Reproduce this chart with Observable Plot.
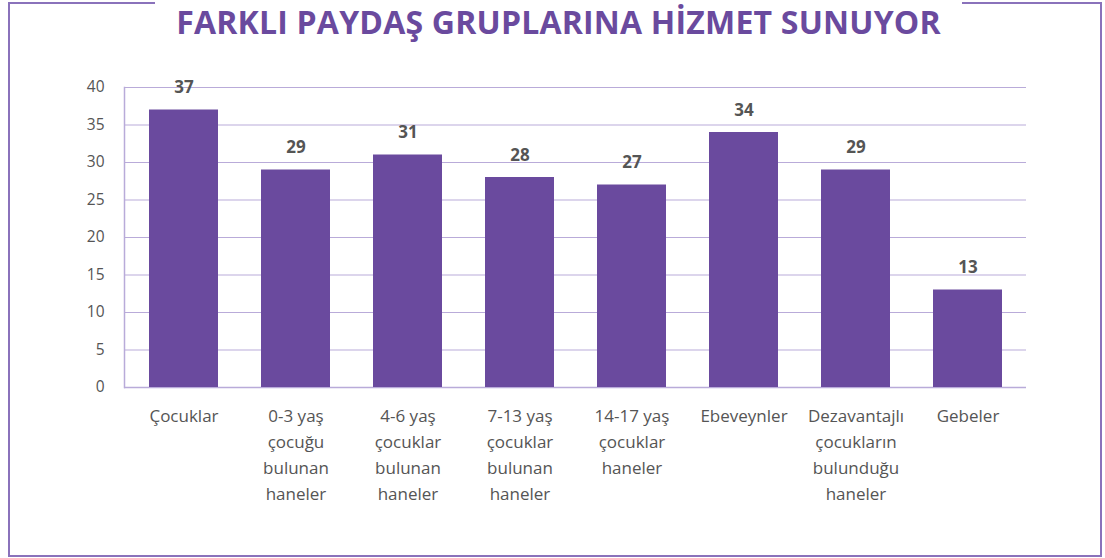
<!DOCTYPE html>
<html>
<head>
<meta charset="utf-8">
<script src="https://cdn.jsdelivr.net/npm/d3@7"></script>
<script src="https://cdn.jsdelivr.net/npm/@observablehq/plot@0.6"></script>
<style>
  html, body { margin: 0; padding: 0; background: #fff; }
  #wrap { position: relative; width: 1105px; height: 558px; overflow: hidden; }
  #frame { position: absolute; left: 8px; top: 2px; width: 1090px; height: 551px; border: 2.5px solid #8a72bb; box-sizing: content-box; }
  #title { position: absolute; left: 155px; width: 807px; top: 0px; height: 44px; background: #fff; text-align: center;
           font-family: "Open Sans", sans-serif; font-weight: 700; font-size: 32px; color: #6a4a9e; line-height: 44px; letter-spacing: 0.2px; white-space: nowrap; }
  #chart { position: absolute; left: 0; top: 0; }
</style>
</head>
<body>
<div id="wrap">
  <div id="frame"></div>
  <div id="chart"></div>
  <div id="title">FARKLI PAYDAŞ GRUPLARINA HİZMET SUNUYOR</div>
</div>
<script>
const categories = [
  "Çocuklar",
  "0-3 yaş\nçocuğu\nbulunan\nhaneler",
  "4-6 yaş\nçocuklar\nbulunan\nhaneler",
  "7-13 yaş\nçocuklar\nbulunan\nhaneler",
  "14-17 yaş\nçocuklar\nhaneler",
  "Ebeveynler",
  "Dezavantajlı\nçocukların\nbulunduğu\nhaneler",
  "Gebeler"
];
const values = [37, 29, 31, 28, 27, 34, 29, 13];
const yTicks = [0, 5, 10, 15, 20, 25, 30, 35, 40];

const data = categories.map((c, i) => ({category: c, value: values[i]}));

const font = "'Open Sans', sans-serif";
const gridColor = "#b9abd9";

const chart = Plot.plot({
  width: 1105,
  height: 558,
  marginLeft: 124,
  marginRight: 79,
  marginTop: 87,
  marginBottom: 171,
  style: {fontFamily: font, background: "transparent"},
  x: {domain: categories, paddingInner: 0.388, paddingOuter: 0.194, label: null},
  y: {domain: [0, 40], ticks: yTicks, label: null},
  marks: [
    Plot.gridY(yTicks, {stroke: gridColor, strokeOpacity: 1, strokeWidth: 1}),
    Plot.frame({anchor: "left", stroke: gridColor, strokeWidth: 1.5}),
    Plot.ruleY([0], {stroke: gridColor, strokeWidth: 1.5}),
    Plot.barY(data, {x: "category", y: "value", fill: "#6a4a9e"}),
    Plot.text(data, {x: "category", y: "value", text: d => String(d.value), dy: -17, lineAnchor: "bottom",
      fontWeight: "bold", fontSize: 17, fill: "#555555"}),
    Plot.axisY(yTicks, {tickSize: 0, tickPadding: 20, fontSize: 15.5, color: "#555555", label: null}),
    Plot.axisX({tickSize: 0, tickPadding: 16, fontSize: 17, color: "#555555", lineHeight: 1.53, lineAnchor: "top", label: null})
  ]
});
document.getElementById("chart").appendChild(chart);
</script>
</body>
</html>
